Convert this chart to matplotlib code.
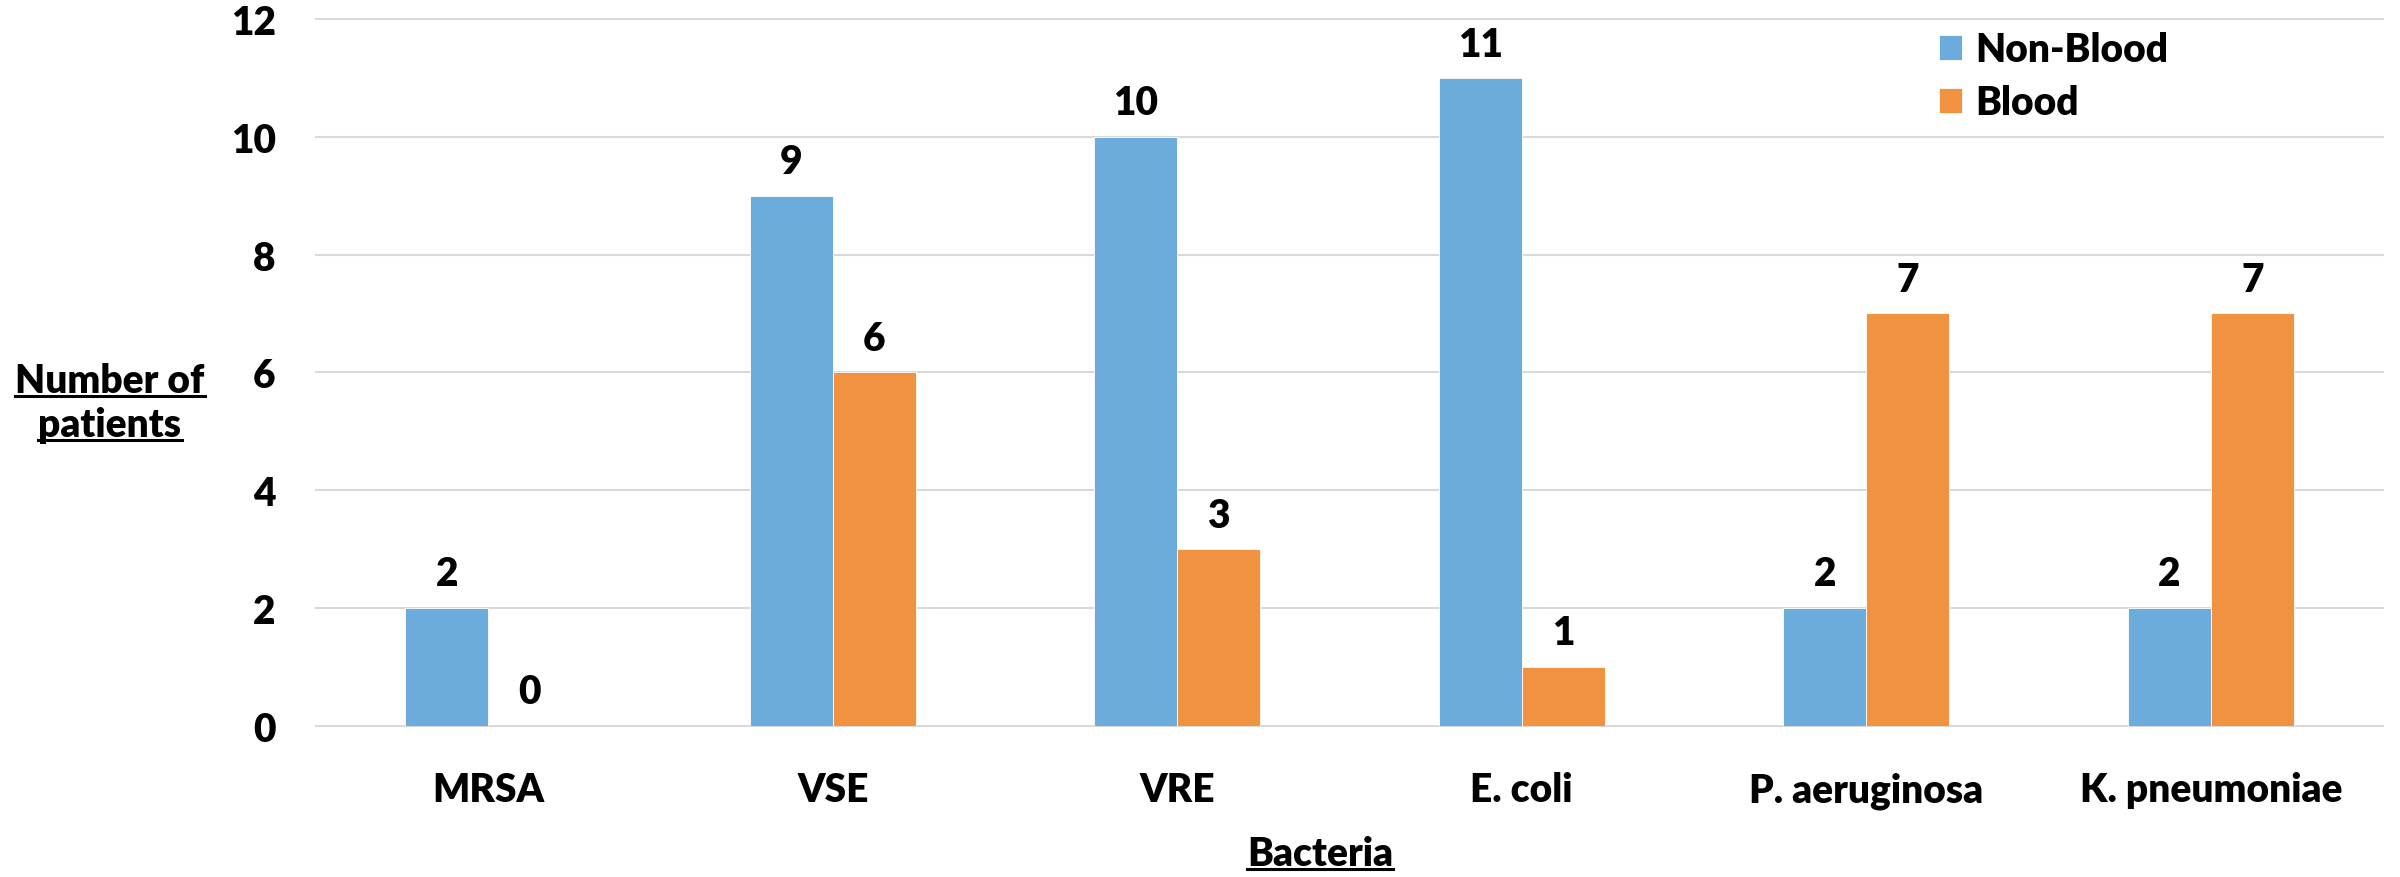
import matplotlib.pyplot as plt
from matplotlib.lines import Line2D

bacteria = ["MRSA", "VSE", "VRE", "E. coli", "P. aeruginosa", "K. pneumoniae"]
non_blood = [2, 9, 10, 11, 2, 2]
blood = [0, 6, 3, 1, 7, 7]

plt.rcParams["font.family"] = ["Lato", "DejaVu Sans"]
plt.rcParams["font.weight"] = "bold"

W, H = 2400, 878
FS = 28

fig = plt.figure(figsize=(W / 100, H / 100), dpi=100)
ax = fig.add_axes([316 / W, 1 - 726.5 / H, (2383 - 316) / W, (726.5 - 20) / H])

x = list(range(len(bacteria)))
w = 0.241
b1 = ax.bar([i - w / 2 for i in x], non_blood, w, color="#6CACDD",
            edgecolor="white", linewidth=0.6, label="Non-Blood", zorder=2)
b2 = ax.bar([i + w / 2 for i in x], blood, w, color="#F19240",
            edgecolor="white", linewidth=0.6, label="Blood", zorder=2)
ax.bar_label(b1, padding=11, fontsize=FS, fontweight="heavy")
ax.bar_label(b2, padding=11, fontsize=FS, fontweight="heavy")

ax.set_xlim(-0.5, len(bacteria) - 0.5)
ax.set_ylim(0, 12)
ax.set_yticks(range(0, 13, 2))
ax.set_xticks(x)
ax.set_xticklabels(bacteria)
ax.tick_params(axis="both", length=0, labelsize=FS)
ax.tick_params(axis="y", pad=29)
ax.tick_params(axis="x", pad=33)
for lbl in ax.get_xticklabels() + ax.get_yticklabels():
    lbl.set_fontweight("heavy")
for s in ax.spines.values():
    s.set_visible(False)
ax.yaxis.grid(True, color="#D9D9D9", linewidth=1.5, zorder=0)
ax.set_axisbelow(True)
for t in ax.yaxis.get_major_ticks():
    t.gridline.set_clip_on(False)

ax.legend(loc="upper left", bbox_to_anchor=(1939 / W, 1 - 32 / H),
          bbox_transform=fig.transFigure, frameon=False,
          prop={"size": FS, "weight": "heavy"},
          borderpad=0, borderaxespad=0, handlelength=0.6, handleheight=0.6,
          handletextpad=0.32, labelspacing=0.42)

# axis titles, underlined
titles = [("Number of", 110, 393), ("patients", 110, 437), ("Bacteria", 1320, 866)]
texts = []
for s, px, py in titles:
    t = fig.text(px / W, 1 - py / H, s, ha="center", va="baseline", fontsize=FS,
                 fontweight="heavy")
    texts.append((t, py))

fig.canvas.draw()
r = fig.canvas.get_renderer()
for t, py in texts:
    bb = t.get_window_extent(r)
    yy = 1 - (py + 4) / H
    fig.add_artist(Line2D([bb.x0 / W, bb.x1 / W], [yy, yy], color="black",
                          linewidth=2.2, transform=fig.transFigure))

fig.savefig("out.png", dpi=100, facecolor="white")
